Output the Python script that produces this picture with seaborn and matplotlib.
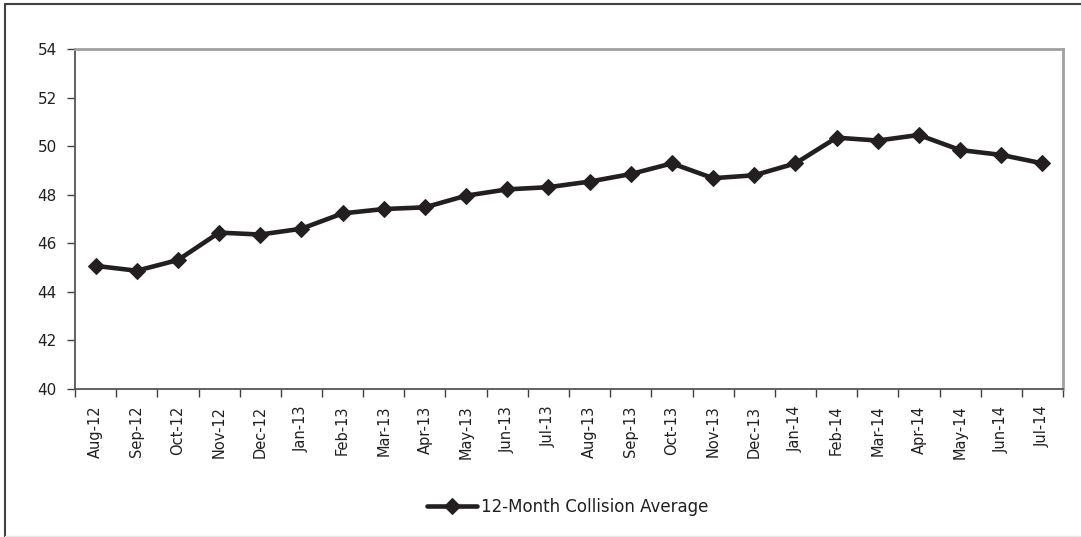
import matplotlib
matplotlib.use('Agg')
import matplotlib.pyplot as plt
import seaborn as sns
import pandas as pd
from matplotlib.lines import Line2D

months = ['Aug-12', 'Sep-12', 'Oct-12', 'Nov-12', 'Dec-12', 'Jan-13', 'Feb-13', 'Mar-13',
          'Apr-13', 'May-13', 'Jun-13', 'Jul-13', 'Aug-13', 'Sep-13', 'Oct-13', 'Nov-13',
          'Dec-13', 'Jan-14', 'Feb-14', 'Mar-14', 'Apr-14', 'May-14', 'Jun-14', 'Jul-14']
collision_avg = [45.07, 44.87, 45.31, 46.44, 46.36, 46.60, 47.23, 47.41,
                 47.48, 47.96, 48.22, 48.31, 48.54, 48.85, 49.29, 48.68,
                 48.80, 49.29, 50.35, 50.23, 50.46, 49.84, 49.64, 49.29]
series_name = '12-Month Collision Average'
y_ticks = [40, 42, 44, 46, 48, 50, 52, 54]

sns.set_style('white')
plt.rcParams['font.family'] = ['DejaVu Sans']
ink = '#231f20'

data = pd.DataFrame({'month': months, 'value': collision_avg})

fig = plt.figure(figsize=(10.81, 5.37), dpi=100)
ax = fig.add_axes([75 / 1081, 1 - 389 / 537, (1063 - 75) / 1081, (389 - 49) / 537])

sns.lineplot(data=data, x='month', y='value', sort=False, ax=ax, color=ink,
             linewidth=3.3, marker='D', markersize=8, markeredgecolor=ink,
             label=series_name)

n = len(months)
ax.set_xlim(-0.5, n - 0.5)
ax.set_ylim(40, 54)
ax.set_yticks(y_ticks)
ax.set_xticks([i - 0.5 for i in range(n + 1)])
ax.set_xticklabels([])
ax.set_xticks(range(n), minor=True)
ax.set_xticklabels(months, minor=True, rotation=90, fontsize=10.5, color=ink)
ax.tick_params(axis='x', which='major', direction='out', length=6, width=1,
               color='#404040', bottom=True)
ax.tick_params(axis='x', which='minor', length=0, pad=12, bottom=True)
ax.tick_params(axis='y', direction='out', length=6, width=1, color='#404040',
               labelsize=11, labelcolor=ink, pad=7, left=True)
ax.set_xlabel('')
ax.set_ylabel('')

for side in ['left', 'bottom']:
    ax.spines[side].set_color('#555555')
    ax.spines[side].set_linewidth(1.3)
for side in ['top', 'right']:
    ax.spines[side].set_color('#a0a0a0')
    ax.spines[side].set_linewidth(2)

ax.legend(loc='center', bbox_to_anchor=(0.525, 30 / 537), bbox_transform=fig.transFigure,
          frameon=False, fontsize=12, handlelength=3.0, handletextpad=0.25,
          labelcolor=ink)

# outer chart frame
fig.add_artist(Line2D([5 / 1081, 5 / 1081], [0, 1 - 4 / 537], transform=fig.transFigure,
                      color='#404040', linewidth=1.5))
fig.add_artist(Line2D([5 / 1081, 1], [1 - 4 / 537, 1 - 4 / 537], transform=fig.transFigure,
                      color='#404040', linewidth=1.5))
fig.add_artist(Line2D([5 / 1081, 1], [1 / 537, 1 / 537], transform=fig.transFigure,
                      color='#e8e8e8', linewidth=1))

fig.savefig('out.png', dpi=100)
